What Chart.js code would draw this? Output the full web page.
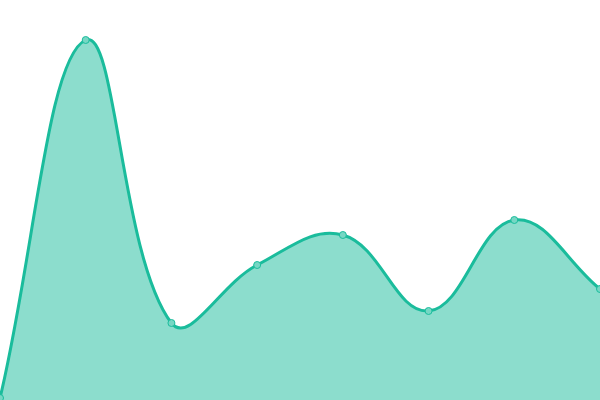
<!DOCTYPE html>
<html><head><meta charset="utf-8">
<script src="https://cdn.jsdelivr.net/npm/chart.js@4"></script>
<style>html,body{margin:0;padding:0;background:#fff}#wrap{width:600px;height:400px}</style>
</head><body><div id="wrap"><canvas id="c"></canvas></div>
<script>
const labels = ["1","2","3","4","5","6","7","8"];
const values = [2, 360, 77, 135, 165, 89, 180, 111];
new Chart(document.getElementById('c'), {
  type: 'line',
  data: { labels: labels, datasets: [{
    data: values,
    borderColor: '#1abc9c',
    backgroundColor: 'rgba(26,188,156,0.5)',
    borderWidth: 3,
    fill: true,
    tension: 0.4,
    pointRadius: 3.5,
    pointBorderWidth: 1,
    pointBackgroundColor: '#76d7c4',
    pointBorderColor: '#1abc9c'
  }]},
  options: {
    responsive: true, maintainAspectRatio: false, animation: false,
    layout: { padding: 0, autoPadding: false },
    plugins: { legend: { display: false }, tooltip: { enabled: false } },
    scales: {
      x: { display: false, offset: false },
      y: { display: false, min: 0, max: 400 }
    }
  }
});
</script></body></html>
